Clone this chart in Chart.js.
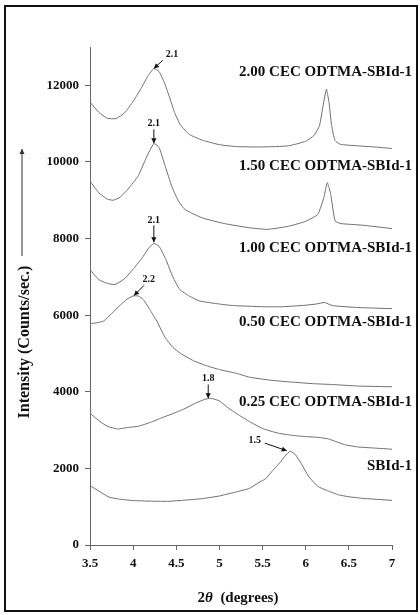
<!DOCTYPE html>
<html>
<head>
<meta charset="utf-8">
<script src="https://cdn.jsdelivr.net/npm/chart.js@4.4.1/dist/chart.umd.min.js"></script>
<style>
  html, body { margin: 0; padding: 0; background: #fff; }
  #wrap { position: relative; width: 420px; height: 615px; }
  #frame { position: absolute; left: 4px; top: 5px; width: 410px; height: 603px; border: 2px solid #111; pointer-events: none; }
  canvas { position: absolute; left: 0; top: 0; }
</style>
</head>
<body>
<div id="wrap">
  <canvas id="c" width="420" height="615"></canvas>
  <div id="frame"></div>
</div>
<script>
// ---- data ----
const seriesNames = ["2.00 CEC ODTMA-SBId-1", "1.50 CEC ODTMA-SBId-1", "1.00 CEC ODTMA-SBId-1",
                     "0.50 CEC ODTMA-SBId-1", "0.25 CEC ODTMA-SBId-1", "SBId-1"];

const xA = [3.5,3.6,3.7,3.8,3.9,4.0,4.1,4.17,4.24,4.3,4.36,4.42,4.48,4.55,4.65,4.8,5.0,5.2,5.5,5.8,6.0,6.1,6.16,6.2,6.24,6.27,6.3,6.34,6.4,6.6,6.8,7.0];
const yA = [11560,11300,11140,11130,11280,11580,11950,12240,12440,12360,12080,11700,11290,10960,10720,10570,10450,10400,10390,10420,10540,10700,10950,11450,11900,11550,10950,10560,10460,10420,10390,10350];

const xB = [3.5,3.6,3.7,3.77,3.85,3.94,4.06,4.15,4.24,4.3,4.37,4.45,4.52,4.6,4.8,5.06,5.35,5.56,5.8,6.0,6.14,6.21,6.25,6.29,6.34,6.41,6.65,7.0];
const yB = [9500,9200,9030,9000,9080,9290,9640,10100,10480,10380,9900,9350,9000,8760,8540,8390,8280,8240,8320,8450,8630,9070,9460,9150,8460,8390,8350,8260];

const xC = [3.5,3.6,3.7,3.79,3.9,4.0,4.1,4.18,4.24,4.3,4.38,4.46,4.54,4.65,4.77,5.0,5.16,5.5,5.73,6.0,6.12,6.22,6.31,6.6,7.0];
const yC = [7190,6930,6830,6800,6950,7200,7480,7750,7870,7800,7450,7000,6670,6500,6370,6290,6250,6220,6220,6260,6290,6330,6250,6200,6170];

const xD = [3.5,3.58,3.66,3.75,3.85,3.93,4.0,4.06,4.12,4.2,4.28,4.37,4.46,4.55,4.7,4.85,5.0,5.2,5.35,5.6,5.85,6.1,6.3,6.6,7.0];
const yD = [5780,5800,5850,6040,6260,6420,6500,6500,6400,6120,5820,5420,5160,5000,4810,4680,4580,4480,4380,4300,4250,4210,4190,4150,4130];

const xE = [3.5,3.6,3.7,3.82,3.95,4.06,4.2,4.33,4.45,4.6,4.72,4.83,4.9,5.0,5.1,5.22,5.35,5.5,5.68,5.85,6.0,6.15,6.26,6.35,6.45,6.6,6.8,7.0];
const yE = [3440,3250,3100,3030,3070,3100,3200,3320,3420,3560,3700,3800,3830,3760,3580,3400,3220,3040,2920,2860,2830,2810,2770,2700,2620,2560,2530,2500];

const xF = [3.5,3.6,3.72,3.83,4.0,4.2,4.4,4.6,4.8,5.0,5.2,5.35,5.47,5.53,5.62,5.7,5.76,5.82,5.88,5.95,6.03,6.14,6.25,6.38,6.5,6.65,7.0];
const yF = [1550,1410,1250,1200,1160,1145,1140,1170,1210,1280,1390,1480,1650,1720,1950,2150,2320,2450,2360,2120,1800,1530,1420,1310,1260,1220,1165];

const xTicks = [3.5, 4, 4.5, 5, 5.5, 6, 6.5, 7];
const yTicks = [0, 2000, 4000, 6000, 8000, 10000, 12000];

// peak annotations: label text, peak (arrow tip) in data units
const peakLabels = ["2.1", "2.1", "2.1", "2.2", "1.8", "1.5"];
const peakX = [4.24, 4.24, 4.24, 4.01, 4.87, 5.78];
const peakY = [12440, 10490, 7900, 6510, 3830, 2460];

// ---- placement (not data) ----
const labelY = [12341, 9886, 7742, 5809, 3719, 2072];
const annText = [[4.45,12812],[4.24,11009],[4.24,8482],[4.18,6932],[4.87,4345],[5.41,2725]];
const annFrom = [[4.345,12654],[4.24,10852],[4.24,8343],[4.125,6776],[4.87,4189],[5.526,2660]];

const xs = [xA, xB, xC, xD, xE, xF];
const ys = [yA, yB, yC, yD, yE, yF];
const datasets = seriesNames.map((n, i) => ({
  label: n,
  data: xs[i].map((x, j) => ({ x: x, y: ys[i][j] })),
  borderColor: '#6f6f6f',
  borderWidth: 1,
  pointRadius: 0,
  tension: 0.15,
  fill: false
}));

const SERIF = '"Liberation Serif", "Times New Roman", serif';

function arrow(ctx, x1, y1, x2, y2) {
  ctx.beginPath();
  ctx.moveTo(x1, y1);
  ctx.lineTo(x2, y2);
  ctx.stroke();
  const a = Math.atan2(y2 - y1, x2 - x1);
  const L = 5, W = 2.6;
  ctx.beginPath();
  ctx.moveTo(x2, y2);
  ctx.lineTo(x2 - L * Math.cos(a) + W * Math.sin(a), y2 - L * Math.sin(a) - W * Math.cos(a));
  ctx.lineTo(x2 - L * Math.cos(a) - W * Math.sin(a), y2 - L * Math.sin(a) + W * Math.cos(a));
  ctx.closePath();
  ctx.fill();
}

const decor = {
  id: 'decor',
  afterDatasetsDraw(chart) {
    const ctx = chart.ctx;
    const sx = chart.scales.x, sy = chart.scales.y;
    const ca = chart.chartArea;
    ctx.save();
    ctx.fillStyle = '#111';
    ctx.strokeStyle = '#111';
    ctx.lineWidth = 1;
    // series labels
    ctx.font = 'bold 15px ' + SERIF;
    ctx.textAlign = 'right';
    ctx.textBaseline = 'middle';
    seriesNames.forEach((n, i) => {
      ctx.fillText(n, ca.right + 20, sy.getPixelForValue(labelY[i]));
    });
    // peak annotations
    ctx.font = 'bold 10px ' + SERIF;
    ctx.textAlign = 'center';
    peakLabels.forEach((t, i) => {
      ctx.fillText(t, sx.getPixelForValue(annText[i][0]), sy.getPixelForValue(annText[i][1]));
      arrow(ctx, sx.getPixelForValue(annFrom[i][0]), sy.getPixelForValue(annFrom[i][1]),
                 sx.getPixelForValue(peakX[i]), sy.getPixelForValue(peakY[i]));
    });
    // x axis title with italic theta
    ctx.textBaseline = 'middle';
    ctx.textAlign = 'left';
    const parts = [['bold 15px ', '2'], ['italic bold 15px ', 'θ'], ['bold 15px ', '  (degrees)']];
    let w = 0;
    parts.forEach(p => { ctx.font = p[0] + SERIF; w += ctx.measureText(p[1]).width; });
    let x0 = (ca.left + ca.right) / 2 - w / 2 - 3;
    parts.forEach(p => { ctx.font = p[0] + SERIF; ctx.fillText(p[1], x0, 598); x0 += ctx.measureText(p[1]).width; });
    // y axis title with arrow
    ctx.save();
    ctx.translate(25, 342);
    ctx.rotate(-Math.PI / 2);
    ctx.font = 'bold 16px ' + SERIF;
    ctx.textAlign = 'center';
    ctx.fillText('Intensity (Counts/sec.)', 0, 0);
    ctx.restore();
    ctx.strokeStyle = '#333';
    ctx.fillStyle = '#333';
    arrow(ctx, 22, 256, 22, 149);
    ctx.restore();
  }
};

new Chart(document.getElementById('c'), {
  type: 'line',
  data: { datasets: datasets },
  options: {
    responsive: false,
    animation: false,
    layout: { padding: { left: 0, right: 28, top: 47, bottom: 0 } },
    plugins: { legend: { display: false }, tooltip: { enabled: false } },
    scales: {
      x: {
        type: 'linear',
        min: 3.5, max: 7,
        afterFit(s) { s.height = 70; },
        afterBuildTicks(s) { s.ticks = xTicks.map(v => ({ value: v })); },
        grid: { display: true, drawOnChartArea: false, drawTicks: true, tickLength: 5, color: '#666' },
        border: { display: true, color: '#666', width: 1 },
        ticks: { color: '#111', font: { family: SERIF, size: 13, weight: 'bold' }, padding: 6, maxRotation: 0,
                 callback: v => String(v) }
      },
      y: {
        type: 'linear',
        min: 0, max: 13000,
        afterFit(s) { s.width = 90; },
        afterBuildTicks(s) { s.ticks = yTicks.map(v => ({ value: v })); },
        grid: { display: true, drawOnChartArea: false, drawTicks: true, tickLength: 5, color: '#666' },
        border: { display: true, color: '#666', width: 1 },
        ticks: { color: '#111', font: { family: SERIF, size: 13, weight: 'bold' }, padding: 6,
                 callback: v => String(v) }
      }
    }
  },
  plugins: [decor]
});
</script>
</body>
</html>
